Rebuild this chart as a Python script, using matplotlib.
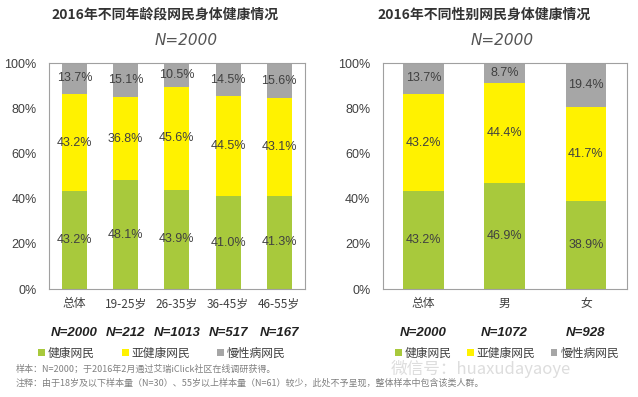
import matplotlib.pyplot as plt
from matplotlib.patches import Patch

plt.rcParams['font.family'] = ['Noto Sans CJK SC', 'DejaVu Sans']

# left chart: age groups
age_cats = ['总体', '19-25岁', '26-35岁', '36-45岁', '46-55岁']
age_n = ['N=2000', 'N=212', 'N=1013', 'N=517', 'N=167']
age_healthy = [43.2, 48.1, 43.9, 41.0, 41.3]
age_sub = [43.2, 36.8, 45.6, 44.5, 43.1]
age_chronic = [13.7, 15.1, 10.5, 14.5, 15.6]

# right chart: gender
sex_cats = ['总体', '男', '女']
sex_n = ['N=2000', 'N=1072', 'N=928']
sex_healthy = [43.2, 46.9, 38.9]
sex_sub = [43.2, 44.4, 41.7]
sex_chronic = [13.7, 8.7, 19.4]

series_names = ['健康网民', '亚健康网民', '慢性病网民']
colors = ['#a8c93c', '#fff200', '#a6a6a6']
txt_col = '#404040'
num_font = 'Liberation Sans'

fig = plt.figure(figsize=(6.38, 3.97), dpi=100)
ax1 = fig.add_axes([0.0768, 0.272, 0.401, 0.569])
ax2 = fig.add_axes([0.600, 0.272, 0.382, 0.569])


def draw(ax, cats, nlab, h, s, c, width):
    x = list(range(len(cats)))
    bottoms = [0] * len(cats)
    for vals, col in zip([h, s, c], colors):
        ax.bar(x, vals, width, bottom=bottoms, color=col, zorder=2)
        for i, v in enumerate(vals):
            ax.text(i, bottoms[i] + v / 2, '%.1f%%' % v, ha='center', va='center',
                    fontsize=9, color=txt_col, family=num_font, zorder=3)
        bottoms = [b + v for b, v in zip(bottoms, vals)]
    ax.set_xlim(-0.5, len(cats) - 0.5)
    ax.set_ylim(0, 100)
    ax.set_yticks([0, 20, 40, 60, 80, 100])
    ax.set_yticklabels(['%d%%' % t for t in [0, 20, 40, 60, 80, 100]],
                       fontsize=9, color=txt_col, family=num_font)
    ax.set_xticks(x)
    ax.set_xticklabels(cats, fontsize=8.5, color=txt_col)
    ax.tick_params(axis='y', length=0, pad=9)
    ax.tick_params(axis='x', length=0, pad=6)
    for sp in ax.spines.values():
        sp.set_color('#a0a0a0')
        sp.set_linewidth(0.8)
    for i, n in enumerate(nlab):
        ax.text(i, -0.195, n, transform=ax.get_xaxis_transform(), ha='center', va='center',
                fontsize=9.5, fontweight='bold', fontstyle='italic', color='#222222',
                family=num_font)


draw(ax1, age_cats, age_n, age_healthy, age_sub, age_chronic, 0.49)
draw(ax2, sex_cats, sex_n, sex_healthy, sex_sub, sex_chronic, 0.5)

fig.text(0.259, 0.962, '2016年不同年龄段网民身体健康情况', ha='center', va='center',
         fontsize=10, fontweight='bold', color='#333333')
fig.text(0.759, 0.962, '2016年不同性别网民身体健康情况', ha='center', va='center',
         fontsize=10, fontweight='bold', color='#333333')
fig.text(0.291, 0.899, 'N=2000', ha='center', va='center', fontsize=11,
         fontstyle='italic', color='#555555', family='DejaVu Sans')
fig.text(0.787, 0.899, 'N=2000', ha='center', va='center', fontsize=11,
         fontstyle='italic', color='#555555', family='DejaVu Sans')

# watermark, faint, just under the right legend
fig.text(0.612, 0.07, '微信号：huaxudayaoye', ha='left', va='center', fontsize=12,
         color='#dddddd', zorder=0)

handles = [Patch(facecolor=c, edgecolor='none', label=n) for c, n in zip(colors, series_names)]
for anchor, sp in [((0.254, 0.111), 2.3), ((0.795, 0.111), 1.3)]:
    fig.legend(handles=handles, loc='center', bbox_to_anchor=anchor, ncol=3, frameon=False,
               fontsize=8.5, handlelength=0.55, handleheight=0.55, handletextpad=0.25,
               columnspacing=sp, labelcolor=txt_col)

fig.text(0.025, 0.07, '样本：N=2000；于2016年2月通过艾瑞iClick社区在线调研获得。',
         ha='left', va='center', fontsize=6.5, color='#808080')
fig.text(0.025, 0.035, '注释：由于18岁及以下样本量（N=30）、55岁以上样本量（N=61）较少，此处不予呈现，整体样本中包含该类人群。',
         ha='left', va='center', fontsize=6.5, color='#808080')

fig.savefig('out.png', dpi=100)
